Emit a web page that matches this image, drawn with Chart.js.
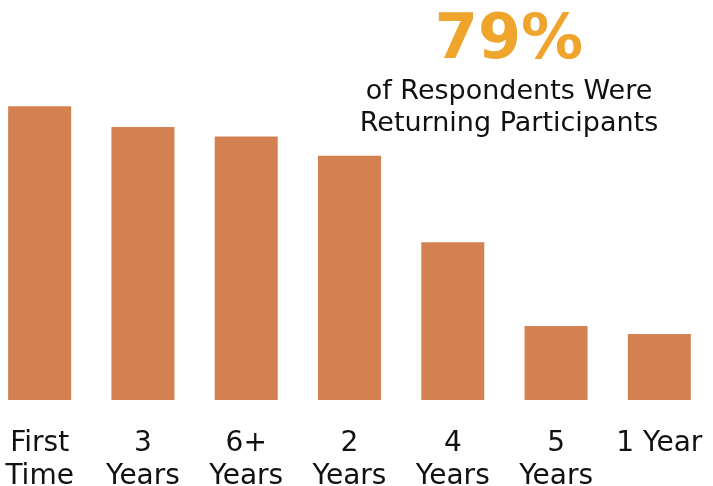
<!DOCTYPE html>
<html>
<head>
<meta charset="utf-8">
<script src="https://cdn.jsdelivr.net/npm/chart.js@4.4.1/dist/chart.umd.min.js"></script>
<style>
  html, body { margin: 0; padding: 0; background: #ffffff; overflow: hidden; }
  #outer { position: relative; width: 713px; height: 486px; overflow: hidden; }
  #wrap { position: absolute; left: -12px; top: 0; width: 723px; height: 486px; }
</style>
</head>
<body>
<div id="outer"><div id="wrap"><canvas id="c"></canvas></div></div>
<script>
const categories = [["First", "Time"], ["3", "Years"], ["6+", "Years"], ["2", "Years"], ["4", "Years"], ["5", "Years"], ["1 Year"]];
const sharePct = [21.4, 19.9, 19.2, 17.8, 11.5, 5.4, 4.8];
const headlineValue = "79%";
const headlineLines = ["of Respondents Were", "Returning Participants"];

const FONT = "'DejaVu Sans', Verdana, sans-serif";

const headlinePlugin = {
  id: 'headline',
  afterDraw(chart) {
    const ctx = chart.ctx;
    const cx = 521;
    ctx.save();
    ctx.textAlign = 'center';
    ctx.textBaseline = 'alphabetic';
    ctx.fillStyle = '#EFA42B';
    ctx.font = "bold 62px " + FONT;
    ctx.fillText(headlineValue, cx, 58);
    ctx.fillStyle = '#111111';
    ctx.font = "27px " + FONT;
    ctx.fillText(headlineLines[0], cx, 99);
    ctx.fillText(headlineLines[1], cx, 131);
    ctx.restore();
  }
};

new Chart(document.getElementById('c'), {
  type: 'bar',
  data: {
    labels: categories,
    datasets: [{
      data: sharePct,
      backgroundColor: '#D48152',
      borderWidth: 0,
      barPercentage: 0.61,
      categoryPercentage: 1.0
    }]
  },
  options: {
    responsive: true,
    maintainAspectRatio: false,
    animation: false,
    layout: { padding: { top: 2, left: 0, right: 0, bottom: 0 } },
    plugins: { legend: { display: false }, tooltip: { enabled: false } },
    scales: {
      x: {
        grid: { display: false, drawTicks: false },
        border: { display: false },
        ticks: {
          color: '#111111',
          font: { family: FONT, size: 28, lineHeight: 1.18 },
          padding: 27,
          maxRotation: 0,
          autoSkip: false
        },
        afterFit(scale) {
          scale.height = 86;
          scale.paddingLeft = 0;
          scale.paddingRight = 0;
        }
      },
      y: {
        display: false,
        min: 0,
        max: 29
      }
    }
  },
  plugins: [headlinePlugin]
});
</script>
</body>
</html>
